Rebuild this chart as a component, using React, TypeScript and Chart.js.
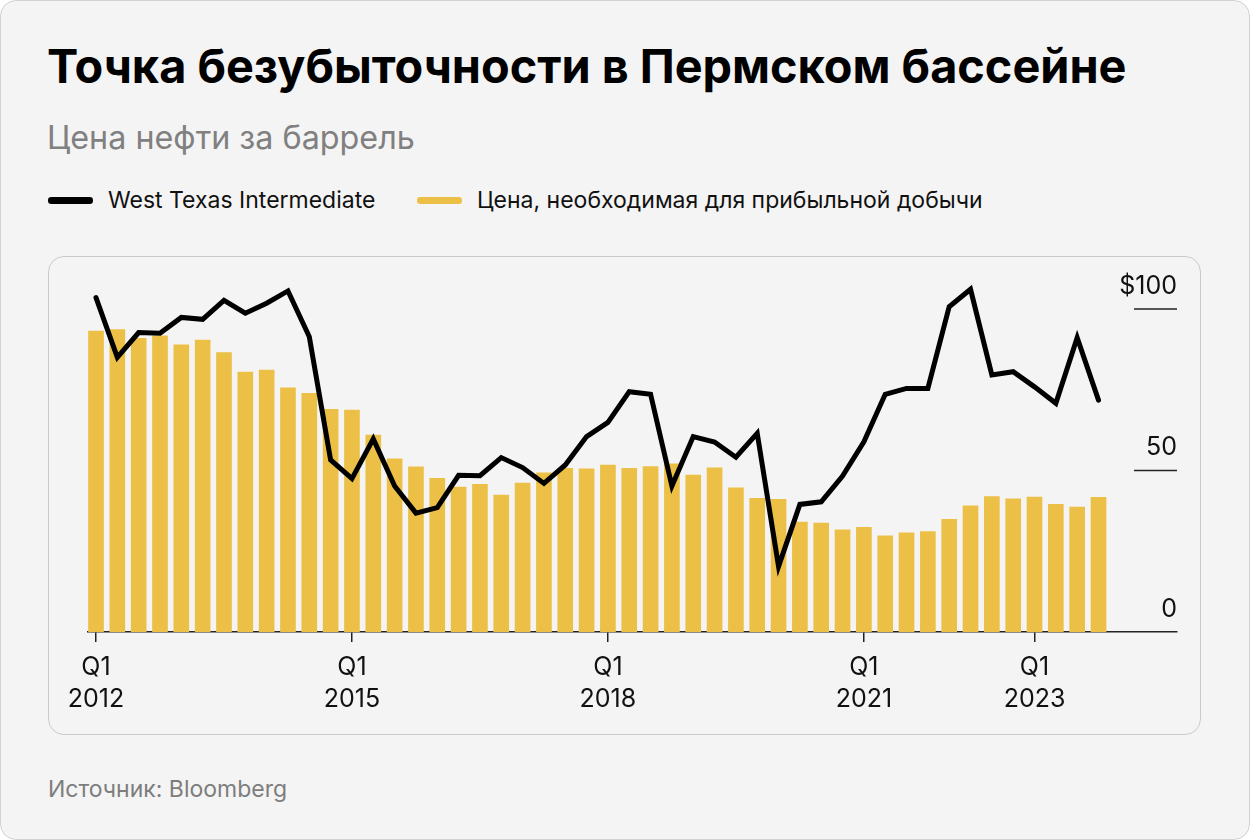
import React, { useEffect, useRef } from "react";
import { Chart, registerables } from "chart.js";

Chart.register(...registerables);

// ---- Data ----
const quarters = [
  "Q1 2012", "Q2 2012", "Q3 2012", "Q4 2012",
  "Q1 2013", "Q2 2013", "Q3 2013", "Q4 2013",
  "Q1 2014", "Q2 2014", "Q3 2014", "Q4 2014",
  "Q1 2015", "Q2 2015", "Q3 2015", "Q4 2015",
  "Q1 2016", "Q2 2016", "Q3 2016", "Q4 2016",
  "Q1 2017", "Q2 2017", "Q3 2017", "Q4 2017",
  "Q1 2018", "Q2 2018", "Q3 2018", "Q4 2018",
  "Q1 2019", "Q2 2019", "Q3 2019", "Q4 2019",
  "Q1 2020", "Q2 2020", "Q3 2020", "Q4 2020",
  "Q1 2021", "Q2 2021", "Q3 2021", "Q4 2021",
  "Q1 2022", "Q2 2022", "Q3 2022", "Q4 2022",
  "Q1 2023", "Q2 2023", "Q3 2023", "Q4 2023",
];

const wti = [
  103.5, 85.0, 92.7, 92.5, 97.4, 96.8, 102.7, 98.7, 101.8, 105.6, 91.4,
  53.3, 47.5, 59.8, 45.2, 36.8, 38.5, 48.5, 48.4, 54.0, 50.9,
  46.0, 51.7, 60.5, 64.9, 74.4, 73.6, 45.2, 60.5, 58.8, 54.1,
  61.5, 20.3, 39.5, 40.3, 48.3, 58.9, 73.6, 75.4, 75.4, 100.7,
  106.1, 79.6, 80.6, 75.9, 70.8, 91.1, 71.8,
];

const breakeven = [
  93.2, 93.6, 90.9, 91.7, 88.9, 90.4, 86.5, 80.5, 81.1, 75.6, 73.9, 68.9,
  68.7, 61.0, 53.6, 51.1, 47.6, 44.9, 45.7, 42.4, 46.1, 49.3, 50.7, 50.5,
  51.7, 50.7, 51.2, 52.1, 48.6, 50.8, 44.6, 41.4, 41.1, 34.0, 33.7, 31.6,
  32.4, 29.8, 30.7, 31.1, 34.9, 39.1, 41.9, 41.2, 41.8, 39.5, 38.7, 41.7,
];

const xTickQuarters = ["Q1 2012", "Q1 2015", "Q1 2018", "Q1 2021", "Q1 2023"];
const yTickValues = [0, 50, 100];
const yTickLabels = ["0", "50", "$100"];

const seriesNames = ["West Texas Intermediate", "Цена, необходимая для прибыльной добычи"];

const TITLE = "Точка безубыточности в Пермском бассейне";
const SUBTITLE = "Цена нефти за баррель";
const SOURCE = "Источник: Bloomberg";

const BAR_COLOR = "#ECC046";
const LINE_COLOR = "#000000";
const BG = "#f4f4f4";
const FONT = "Inter, 'Noto Sans', sans-serif";

const rightAxisPlugin = {
  id: "rightAxisLabels",
  afterDatasetsDraw(chart: any) {
    const { ctx, chartArea, scales } = chart;
    const y = scales.y;
    ctx.save();
    ctx.font = `25px ${FONT}`;
    ctx.fillStyle = "#111";
    ctx.textAlign = "right";
    ctx.textBaseline = "alphabetic";
    yTickValues.forEach((v, i) => {
      const py = y.getPixelForValue(v);
      if (v !== 0) {
        ctx.beginPath();
        ctx.moveTo(chartArea.right - 43, py);
        ctx.lineTo(chartArea.right, py);
        ctx.lineWidth = 1.5;
        ctx.strokeStyle = "#222";
        ctx.stroke();
      }
      ctx.fillText(yTickLabels[i], chartArea.right, py - 15.5);
    });
    ctx.restore();
  },
};

function ChartCanvas() {
  const ref = useRef<HTMLCanvasElement | null>(null);
  useEffect(() => {
    if (!ref.current) return;
    const tickIdx = xTickQuarters.map((q) => quarters.indexOf(q));
    const chart = new Chart(ref.current, {
      type: "bar",
      data: {
        datasets: [
          {
            type: "line",
            label: seriesNames[0],
            data: quarters.map((q, i) => ({ x: i, y: wti[i] })),
            borderColor: LINE_COLOR,
            borderWidth: 5,
            pointRadius: 0,
            tension: 0,
            borderJoinStyle: "miter",
            borderCapStyle: "round",
            fill: false,
            order: 0,
            clip: false,
          } as any,
          {
            type: "bar",
            label: seriesNames[1],
            data: quarters.map((q, i) => ({ x: i, y: breakeven[i] })),
            backgroundColor: BAR_COLOR,
            borderWidth: 0,
            barThickness: 15,
            order: 1,
          } as any,
        ],
      },
      options: {
        responsive: false,
        animation: false,
        events: [],
        layout: { padding: { left: 88, right: 73, top: 276.7, bottom: 114.3 } },
        plugins: { legend: { display: false }, tooltip: { enabled: false } },
        scales: {
          x: {
            type: "linear",
            min: -0.375,
            max: 50.68,
            offset: false,
            z: 1,
            afterBuildTicks: (axis: any) => {
              axis.ticks = tickIdx.map((v) => ({ value: v }));
            },
            ticks: {
              autoSkip: false,
              maxRotation: 0,
              padding: 10.1,
              color: "#111",
              font: { family: FONT, size: 25, lineHeight: 1.27 },
              callback: (value: any) => {
                const q = quarters[Math.round(Number(value))];
                return q ? q.split(" ") : "";
              },
            },
            grid: {
              display: true,
              offset: false,
              drawOnChartArea: false,
              drawTicks: true,
              tickLength: 10,
              color: "#222",
              lineWidth: 1.5,
            },
            border: { display: true, color: "#222", width: 1.5 },
          },
          y: {
            display: false,
            min: 0,
            max: 110,
          },
        },
      } as any,
      plugins: [rightAxisPlugin],
    });
    return () => chart.destroy();
  }, []);
  return (
    <canvas
      ref={ref}
      width={1250}
      height={840}
      style={{ position: "absolute", left: 0, top: 0, width: 1250, height: 840 }}
    />
  );
}

export default function App() {
  return (
    <div
      style={{
        position: "absolute",
        left: 0,
        top: 0,
        width: 1250,
        height: 840,
        background: "#ffffff",
        fontFamily: FONT,
        overflow: "hidden",
      }}
    >
      <div
        style={{
          position: "absolute",
          left: 0,
          top: 0,
          width: 1250,
          height: 840,
          boxSizing: "border-box",
          border: "1px solid #d2d2d2",
          borderRadius: 16,
          background: BG,
        }}
      />
      <div
        style={{
          position: "absolute",
          left: 48,
          top: 256,
          width: 1153,
          height: 479,
          boxSizing: "border-box",
          border: "1px solid #cacaca",
          borderRadius: 16,
          background: BG,
        }}
      />
      <div
        style={{
          position: "absolute",
          left: 47,
          top: 42.7,
          fontSize: 46.8,
          lineHeight: "47px",
          fontWeight: 700,
          color: "#000",
          whiteSpace: "nowrap",
        }}
      >
        {TITLE}
      </div>
      <div
        style={{
          position: "absolute",
          left: 47,
          top: 122.1,
          fontSize: 32.3,
          lineHeight: "32.3px",
          color: "#808080",
          whiteSpace: "nowrap",
        }}
      >
        {SUBTITLE}
      </div>
      <div style={{ position: "absolute", left: 48, top: 197.4, width: 45, height: 6.6, borderRadius: 3.3, background: LINE_COLOR }} />
      <div
        style={{
          position: "absolute",
          left: 108,
          top: 188.8,
          fontSize: 23,
          lineHeight: "23px",
          color: "#111",
          whiteSpace: "nowrap",
        }}
      >
        {seriesNames[0]}
      </div>
      <div style={{ position: "absolute", left: 417, top: 197.4, width: 45, height: 6.6, borderRadius: 3.3, background: BAR_COLOR }} />
      <div
        style={{
          position: "absolute",
          left: 477,
          top: 188.8,
          fontSize: 23,
          lineHeight: "23px",
          color: "#111",
          whiteSpace: "nowrap",
        }}
      >
        {seriesNames[1]}
      </div>
      <div
        style={{
          position: "absolute",
          left: 48,
          top: 777.8,
          fontSize: 23,
          lineHeight: "23px",
          color: "#7d7d7d",
          whiteSpace: "nowrap",
        }}
      >
        {SOURCE}
      </div>
      <ChartCanvas />
    </div>
  );
}
